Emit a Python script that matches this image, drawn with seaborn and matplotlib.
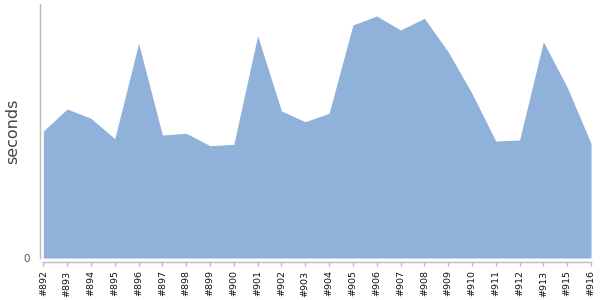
import numpy as np
import pandas as pd
import matplotlib
matplotlib.use("Agg")
import matplotlib.pyplot as plt
import seaborn as sns

builds = ["#892", "#893", "#894", "#895", "#896", "#897", "#898", "#899", "#900",
          "#901", "#902", "#903", "#904", "#905", "#906", "#907", "#908", "#909",
          "#910", "#911", "#912", "#913", "#915", "#916"]
seconds = [127, 149, 139.7, 119.3, 214.7, 123, 124.7, 112.3, 113.7,
           222.3, 147, 136.3, 144.7, 233, 242, 228, 239.7, 206.3,
           164.7, 117, 118, 216.3, 170.7, 114.7]

sns.set_theme(style="white")
plt.rcParams['font.family'] = ['DejaVu Sans']

df = pd.DataFrame({"build": builds, "seconds": seconds})
df["pos"] = np.arange(len(df))

fig = plt.figure(figsize=(6, 3), dpi=100)
ax = fig.add_axes([40 / 600, 1 - 258 / 300, (591 - 40) / 600, (258 - 4) / 300])

sns.lineplot(data=df, x="pos", y="seconds", ax=ax, linewidth=0, color="#8fb1da")
ax.fill_between(df["pos"], 0, df["seconds"], color="#8fb1da", linewidth=0)

ax.set_xlim(-0.14, len(df) - 1)
ax.set_ylim(0, 254)
ax.set_xticks(list(df["pos"]))
ax.set_xticklabels(list(df["build"]))
ax.set_yticks([0])
ax.set_yticklabels(["0"])
ax.set_xlabel("")
ax.set_ylabel("seconds", fontsize=11.5, color="#444444", va="center", ha="center")
ax.yaxis.set_label_coords((13 - 40) / 551, (258 - 131) / 254)

for s in ["top", "right"]:
    ax.spines[s].set_visible(False)
ax.spines["left"].set_color("#bbbbbb")
ax.spines["left"].set_linewidth(1)
ax.spines["bottom"].set_color("#bbbbbb")
ax.spines["bottom"].set_linewidth(1)
ax.spines["bottom"].set_position(("outward", 3))
ax.spines["bottom"].set_bounds(0, len(df) - 1)

ax.tick_params(axis="x", length=3, width=1, color="#bbbbbb", direction="out", pad=3,
               bottom=True, labelrotation=90, labelsize=6.8, labelcolor="#111111")
ax.tick_params(axis="y", length=0, pad=7, labelsize=7.5, labelcolor="#555555")

fig.savefig("out.png", dpi=100)
